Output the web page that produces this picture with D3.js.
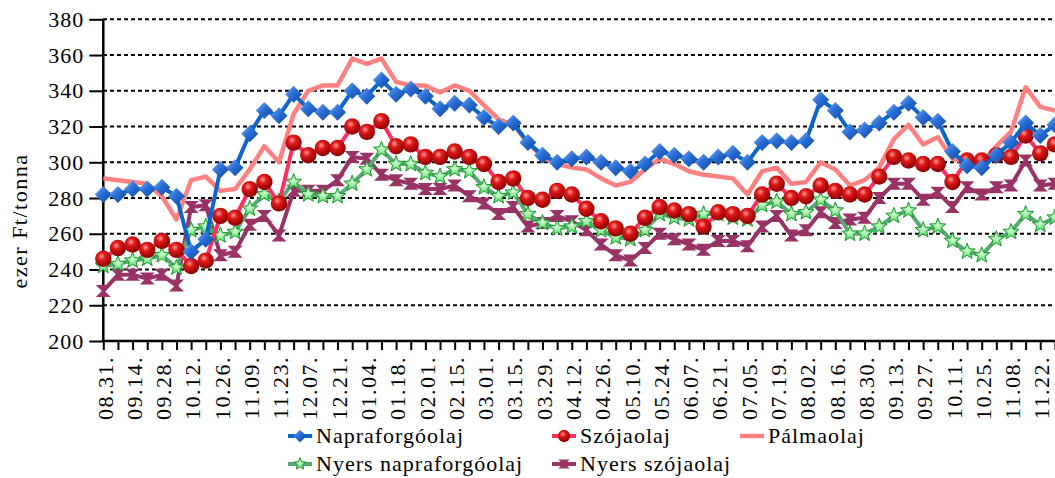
<!doctype HTML>
<html>
	<head>
		<meta charset="utf-8">
		<script src="https://d3js.org/d3.v7.min.js"></script>
		<style>
			body { margin: 0; background: #fff; }
			text { font-family: "Liberation Serif", "DejaVu Serif", serif; }
		</style>
	</head>
	<body>
		<div id="chart"></div>
		<script>
			// weekly dates, only every second one is labelled
			var weeks = ["08.31.","09.07.","09.14.","09.21.","09.28.","10.05.","10.12.","10.19.","10.26.","11.02.",
				"11.09.","11.16.","11.23.","11.30.","12.07.","12.14.","12.21.","12.28.","01.04.","01.11.",
				"01.18.","01.25.","02.01.","02.08.","02.15.","02.22.","03.01.","03.08.","03.15.","03.22.",
				"03.29.","04.05.","04.12.","04.19.","04.26.","05.03.","05.10.","05.17.","05.24.","05.31.",
				"06.07.","06.14.","06.21.","06.28.","07.05.","07.12.","07.19.","07.26.","08.02.","08.09.",
				"08.16.","08.23.","08.30.","09.06.","09.13.","09.20.","09.27.","10.04.","10.11.","10.18.",
				"10.25.","11.01.","11.08.","11.15.","11.22.","11.29."];

			var napraforgo = [282,282,285,285,286,281,250,257,296,297,316,329,326,338,330,328,328,340,337,346,
				338,341,337,330,333,332,325,320,322,311,304,300,302,303,300,297,295,299,306,304,
				302,300,303,305,300,311,312,311,312,335,329,317,318,322,328,333,325,323,306,298,
				297,304,311,322,315,321];
			var szoja = [246,252,254,251,256,251,242,245,270,269,285,289,277,311,304,308,308,320,317,323,
				309,310,303,303,306,303,299,289,291,280,279,284,282,274,267,263,260,269,275,273,
				271,264,272,271,270,282,288,280,281,287,284,282,282,292,303,301,299,299,289,301,
				301,304,303,315,305,310];
			var palma = [291,290,289,288,281,268,290,292,284,285,296,309,300,327,340,343,343,358,355,358,
				345,343,343,339,343,340,332,324,321,311,303,299,297,296,291,287,289,296,302,299,
				295,293,292,291,282,295,297,288,289,300,296,287,290,297,313,321,310,314,302,300,
				299,309,317,342,331,329];
			var nyersNapraforgo = [242,243,245,246,248,241,262,264,259,261,274,282,278,289,282,281,281,288,296,307,
				299,299,294,292,296,295,286,281,283,271,266,263,264,267,262,258,257,262,271,269,
				268,271,271,269,268,276,278,271,272,279,273,260,260,264,270,273,262,264,256,250,
				248,257,261,271,265,269];
			var nyersSzoja = [228,237,237,235,237,231,275,276,248,250,265,270,259,284,284,284,290,303,302,293,
				290,288,285,285,287,281,277,271,275,264,266,270,267,262,254,248,245,252,260,257,
				254,251,256,256,253,264,270,259,262,272,266,268,269,280,288,288,279,283,275,286,
				282,286,287,301,287,288];

			var seriesNames = ["Napraforgóolaj","Szójaolaj","Pálmaolaj","Nyers napraforgóolaj","Nyers szójaolaj"];
			var yTicks = [200,220,240,260,280,300,320,340,360,380];

			var width = 1055, height = 478;
			var svg = d3.select("#chart").append("svg")
				.attr("width", width).attr("height", height);

			var defs = svg.append("defs");
			var g1 = defs.append("linearGradient").attr("id","blueGrad")
				.attr("x1","0").attr("y1","0").attr("x2","1").attr("y2","1");
			g1.append("stop").attr("offset","0").attr("stop-color","#7fb0f5");
			g1.append("stop").attr("offset","0.45").attr("stop-color","#2a6fd6");
			g1.append("stop").attr("offset","1").attr("stop-color","#0f45a0");
			var g2 = defs.append("radialGradient").attr("id","redGrad")
				.attr("cx","0.4").attr("cy","0.35").attr("r","0.65");
			g2.append("stop").attr("offset","0").attr("stop-color","#ff9a9a");
			g2.append("stop").attr("offset","0.35").attr("stop-color","#e01818");
			g2.append("stop").attr("offset","1").attr("stop-color","#8a0000");
			var g3 = defs.append("radialGradient").attr("id","greenGrad")
				.attr("cx","0.5").attr("cy","0.45").attr("r","0.6");
			g3.append("stop").attr("offset","0").attr("stop-color","#d8ffd8");
			g3.append("stop").attr("offset","1").attr("stop-color","#33cc44");

			var x = d3.scalePoint().domain(d3.range(weeks.length)).range([103.3, 1054.9]);
			var y = d3.scaleLinear().domain([200, 380]).range([341, 19.3]);

			// dashed gridlines
			svg.append("g").selectAll("line").data(yTicks.slice(1)).enter().append("line")
				.attr("x1", 103).attr("x2", width)
				.attr("y1", function(d){ return y(d); }).attr("y2", function(d){ return y(d); })
				.attr("stroke", "#000").attr("stroke-width", 2).attr("stroke-dasharray", "4,3");

			// y axis
			var yAxis = d3.axisLeft(y).tickValues(yTicks).tickSize(14).tickPadding(5);
			var yg = svg.append("g").attr("transform", "translate(103.3,0)").call(yAxis);
			yg.select(".domain").attr("stroke-width", 2.5).attr("d", "M0," + y(380) + "V" + y(200));
			yg.selectAll(".tick line").attr("stroke-width", 2);
			yg.selectAll("text").attr("font-size", 22).attr("letter-spacing", "1px").attr("fill", "#000");

			// x axis
			var xAxis = d3.axisBottom(x).tickSize(9).tickPadding(4)
				.tickFormat(function(d){ return d % 2 === 0 ? weeks[d] : ""; });
			var xg = svg.append("g").attr("transform", "translate(0,341)").call(xAxis);
			xg.select(".domain").attr("stroke-width", 2.5).attr("d", "M103.3,0H" + width);
			xg.selectAll(".tick line").attr("stroke-width", 2);
			xg.selectAll("text").attr("font-size", 22).attr("letter-spacing", "1.5px").attr("fill", "#000")
				.attr("text-anchor", "end").attr("dy", "0.35em")
				.attr("transform", "translate(1,15) rotate(-90)").attr("x", 0).attr("y", 0);

			// y title
			svg.append("text").attr("transform", "translate(27,221) rotate(-90)")
				.attr("text-anchor", "middle").attr("font-size", 22).attr("letter-spacing", "1.5px")
				.text("ezer Ft/tonna");

			// markers
			function diamond(s){ return "M0," + (-s) + "L" + s + ",0L0," + s + "L" + (-s) + ",0Z"; }
			function star(ro, ri){
				var p = [];
				for (var i = 0; i < 10; i++) {
					var r = i % 2 === 0 ? ro : ri, a = -Math.PI / 2 + i * Math.PI / 5;
					p.push([r * Math.cos(a), r * Math.sin(a)]);
				}
				return "M" + p.map(function(q){ return q[0].toFixed(2) + "," + q[1].toFixed(2); }).join("L") + "Z";
			}
			function bowtie(w, h){
				return "M" + (-w) + "," + (-h) + "L" + w + "," + (-h) + "L1.5,0L" + w + "," + h +
					"L" + (-w) + "," + h + "L-1.5,0Z";
			}

			var series = [
				{name: seriesNames[0], values: napraforgo, color: "#0a66cc", w: 4,
					marker: function(sel, k){ sel.append("path").attr("d", diamond(8.5 * k)).attr("fill", "url(#blueGrad)"); }},
				{name: seriesNames[1], values: szoja, color: "#ff2f62", w: 4,
					marker: function(sel, k){ sel.append("circle").attr("r", 8.2 * k).attr("fill", "url(#redGrad)"); }},
				{name: seriesNames[2], values: palma, color: "#ff8080", w: 4.5, marker: null},
				{name: seriesNames[3], values: nyersNapraforgo, color: "#5aa878", w: 4,
					marker: function(sel, k){ sel.append("path").attr("d", star(8.5 * k, 3.6 * k))
						.attr("fill", "url(#greenGrad)").attr("stroke", "#1d9a2e").attr("stroke-width", 1); }},
				{name: seriesNames[4], values: nyersSzoja, color: "#993366", w: 4,
					marker: function(sel, k){ sel.append("path").attr("d", bowtie(7.5 * k, 6 * k)).attr("fill", "#993366"); }}
			];

			var line = d3.line().x(function(d, i){ return x(i); }).y(function(d){ return y(d); });

			// drawn last series first so blue ends on top
			series.slice().reverse().forEach(function(s){
				var g = svg.append("g");
				g.append("path").datum(s.values).attr("d", line)
					.attr("fill", "none").attr("stroke", s.color).attr("stroke-width", s.w)
					.attr("stroke-linejoin", "round");
				if (s.marker) {
					g.selectAll("g.m").data(s.values).enter().append("g").attr("class", "m")
						.attr("transform", function(d, i){ return "translate(" + x(i) + "," + y(d) + ")"; })
						.each(function(){ s.marker(d3.select(this), 1); });
				}
			});

			// legend
			var legendPos = [[288, 436], [552, 436], [740, 436], [288, 464], [552, 464]];
			series.forEach(function(s, i){
				var lg = svg.append("g").attr("transform", "translate(" + legendPos[i][0] + "," + legendPos[i][1] + ")");
				lg.append("line").attr("x1", 0).attr("x2", 24).attr("stroke", s.color).attr("stroke-width", s.w);
				if (s.marker) {
					var mg = lg.append("g").attr("transform", "translate(12,0)");
					s.marker(mg, 0.75);
				}
				lg.append("text").attr("x", 28).attr("y", 7).attr("font-size", 22)
					.attr("letter-spacing", "1px").text(s.name);
			});
		</script>
	</body>
</html>
